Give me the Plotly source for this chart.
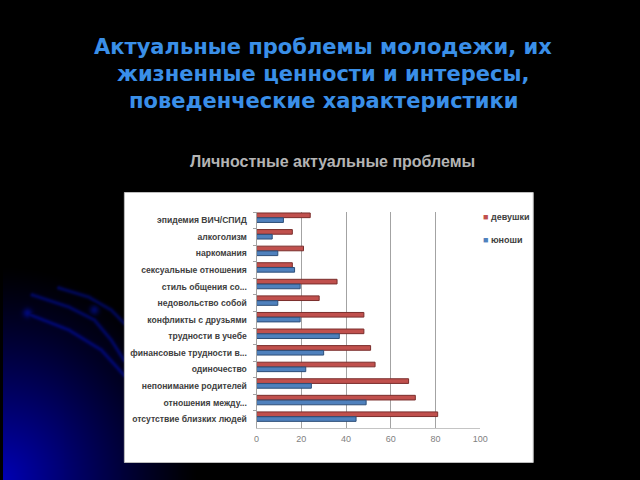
import base64, struct, zlib
import numpy as np
import plotly.graph_objects as go

# ---------------- data ----------------
categories = [
    "эпидемия ВИЧ/СПИД",
    "алкоголизм",
    "наркомания",
    "сексуальные отношения",
    "стиль общения со...",
    "недовольство собой",
    "конфликты с друзьями",
    "трудности в учебе",
    "финансовые трудности в...",
    "одиночество",
    "непонимание родителей",
    "отношения между...",
    "отсутствие близких людей",
]
girls = [24, 16, 21, 16, 36, 28, 48, 48, 51, 53, 68, 71, 81]
boys = [12, 7, 9.5, 17, 19.5, 9.5, 19.5, 37, 30, 22, 24.5, 49, 44.5]
series_names = ["девушки", "юноши"]
x_ticks = [0, 20, 40, 60, 80, 100]

title_lines = [
    "Актуальные проблемы молодежи, их",
    "жизненные ценности и интересы,",
    "поведенческие характеристики",
]
subtitle = "Личностные актуальные проблемы"

W, H = 640, 480
def xp(px):
    return px / W
def yp(py):
    return 1 - py / H

RED, RED_LINE = "#c0504d", "#7a2e2c"
BLUE, BLUE_LINE = "#4f81bd", "#2d4e78"

# ---------------- decorative background (blue glow bottom-left) ----------------
IW, IH, IY0 = 220, 230, 250
xs = np.arange(IW) + 0.5
ys = IY0 + np.arange(IH) + 0.5
X, Y = np.meshgrid(xs, ys)
d = np.sqrt((X / 200.0) ** 2 + ((480 - Y) / 215.0) ** 2)
glow = np.clip(1 - d, 0, 1) ** 1.2 * 180

def polyline(pts, n=300):
    pts = np.array(pts, float)
    seg = np.linspace(0, len(pts) - 1, n)
    i = np.minimum(seg.astype(int), len(pts) - 2)
    t = (seg - i)[:, None]
    return pts[i] * (1 - t) + pts[i + 1] * t

curves = [
    [(23, 313), (67, 330), (100, 350), (123, 375)],
    [(30, 295), (67, 307), (93, 320), (110, 340), (123, 360)],
    [(57, 288), (87, 297), (110, 310), (123, 323)],
]
arc = np.zeros_like(X)
for c in curves:
    P = polyline(c)
    dd = np.sqrt((X[..., None] - P[:, 0]) ** 2 + (Y[..., None] - P[:, 1]) ** 2).min(axis=2)
    arc = np.maximum(arc, np.exp(-(dd / 2.3) ** 2) * 70)
for bx, by in [(25, 313), (93, 310)]:
    arc = np.maximum(arc, np.exp(-(((X - bx) ** 2 + (Y - by) ** 2) / 22.0)) * 90)

B = np.clip(glow + arc, 0, 255).astype(np.uint8)
R = np.zeros_like(B)
G = np.clip(arc * 0.1, 0, 255).astype(np.uint8)
img = np.dstack([R, G, B])

def png_bytes(a):
    h, w, _ = a.shape
    raw = b"".join(b"\x00" + a[r].tobytes() for r in range(h))
    def chunk(t, data):
        c = struct.pack(">I", len(data)) + t + data
        return c + struct.pack(">I", zlib.crc32(t + data) & 0xffffffff)
    return (b"\x89PNG\r\n\x1a\n" + chunk(b"IHDR", struct.pack(">IIBBBBB", w, h, 8, 2, 0, 0, 0))
            + chunk(b"IDAT", zlib.compress(raw, 9)) + chunk(b"IEND", b""))

bg_uri = "data:image/png;base64," + base64.b64encode(png_bytes(img)).decode()

# ---------------- figure ----------------
fig = go.Figure()
fig.add_trace(go.Bar(
    y=categories, x=girls, orientation="h", name=series_names[0],
    marker=dict(color=RED, line=dict(color=RED_LINE, width=1)),
    width=0.28, offset=-0.44, showlegend=False,
))
fig.add_trace(go.Bar(
    y=categories, x=boys, orientation="h", name=series_names[1],
    marker=dict(color=BLUE, line=dict(color=BLUE_LINE, width=1)),
    width=0.28, offset=-0.15, showlegend=False,
))

annotations = []
title_centers = [46.5, 74, 101]
for line, yc in zip(title_lines, title_centers):
    annotations.append(dict(
        text=line, x=xp(326), y=yp(yc), xref="paper", yref="paper",
        xanchor="center", yanchor="middle", showarrow=False,
        font=dict(family="DejaVu Sans", size=21, color="#3a8fe8", weight="bold"),
    ))
annotations.append(dict(
    text=subtitle, x=xp(335), y=yp(161.5), xref="paper", yref="paper",
    xanchor="center", yanchor="middle", showarrow=False,
    font=dict(family="Liberation Sans", size=16, color="#b4b4b4", weight="bold"),
))
for name, col, ly in [(series_names[0], RED, 217), (series_names[1], BLUE, 240)]:
    annotations.append(dict(
        text=f"<span style='color:{col}'>■</span> {name}",
        x=xp(486), y=yp(ly), xref="paper", yref="paper",
        xanchor="left", yanchor="middle", showarrow=False,
        font=dict(family="Liberation Sans", size=9, color="#404040", weight="bold"),
    ))

fig.update_layout(
    width=W, height=H,
    margin=dict(l=0, r=0, t=0, b=0),
    paper_bgcolor="#000000",
    plot_bgcolor="rgba(0,0,0,0)",
    barmode="overlay",
    showlegend=False,
    annotations=annotations,
    images=[dict(source=bg_uri, xref="paper", yref="paper", x=0, y=yp(IY0),
                 sizex=IW / W, sizey=IH / H, xanchor="left", yanchor="top",
                 sizing="stretch", layer="below")],
    shapes=[dict(type="rect", xref="paper", yref="paper",
                 x0=xp(123.5), x1=xp(539.5), y0=yp(462.5), y1=yp(192.5),
                 fillcolor="#ffffff", line=dict(color="#bdbdbd", width=1), layer="below")],
    xaxis=dict(
        domain=[xp(258), xp(485.5)], range=[0, 100],
        tickvals=x_ticks, ticktext=[str(v) for v in x_ticks],
        showgrid=True, gridcolor="#a3a3a3", gridwidth=1,
        zeroline=False, showline=True, linecolor="#c4c4c4",
        ticks="", ticklabelstandoff=3,
        tickfont=dict(family="Liberation Sans", size=9, color="#7f7f7f"),
        fixedrange=True,
    ),
    yaxis=dict(
        domain=[yp(427.5), yp(212)], autorange="reversed",
        categoryorder="array", categoryarray=categories,
        showgrid=False, zeroline=False, showline=True, linecolor="#a3a3a3",
        ticks="outside", ticklen=3, tickcolor="#a3a3a3", tickson="boundaries",
        ticklabelstandoff=7,
        tickfont=dict(family="Liberation Sans", size=8.6, color="#404040", weight="bold"),
        fixedrange=True,
    ),
)

fig.write_html("out.html", config={"displayModeBar": False},
               post_script="document.body.style.margin='0';document.body.style.overflow='hidden';")
